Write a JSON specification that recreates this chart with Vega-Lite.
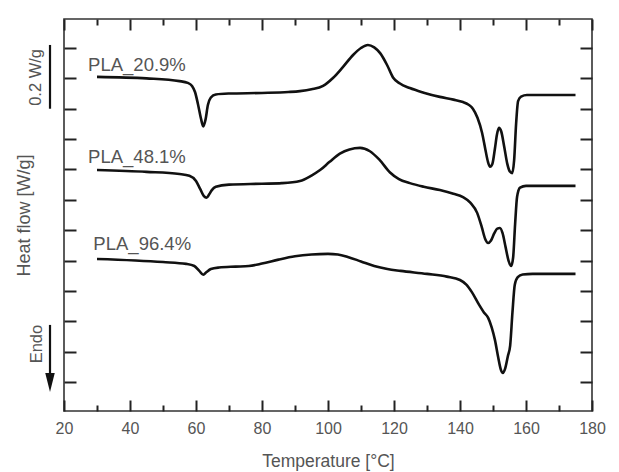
{
  "$schema": "https://vega.github.io/schema/vega-lite/v6.json",
  "width": 528,
  "height": 392,
  "autosize": {"type": "none"},
  "padding": {"left": 64, "top": 19, "right": 27, "bottom": 61},
  "background": "white",
  "config": {
    "view": {"stroke": "#333", "strokeWidth": 1.6},
    "font": "Liberation Sans",
    "axis": {"grid": false, "domain": false, "tickColor": "#222", "tickWidth": 2, "labelFont": "Liberation Sans", "titleFont": "Liberation Sans", "labelColor": "#555", "titleColor": "#555", "titleFontWeight": "normal", "labelFlush": false}
  },
  "datasets": {
    "curves": [
      {"s":"PLA_20.9%","T":30,"hf":1.005},{"s":"PLA_20.9%","T":45,"hf":1.000},{"s":"PLA_20.9%","T":55,"hf":0.991},{"s":"PLA_20.9%","T":57.5,"hf":0.985},{"s":"PLA_20.9%","T":58.8,"hf":0.975},{"s":"PLA_20.9%","T":59.7,"hf":0.955},{"s":"PLA_20.9%","T":60.6,"hf":0.915},{"s":"PLA_20.9%","T":61.5,"hf":0.868},{"s":"PLA_20.9%","T":62.2,"hf":0.842},{"s":"PLA_20.9%","T":62.9,"hf":0.865},{"s":"PLA_20.9%","T":63.6,"hf":0.912},{"s":"PLA_20.9%","T":64.5,"hf":0.937},{"s":"PLA_20.9%","T":66,"hf":0.947},{"s":"PLA_20.9%","T":70,"hf":0.950},{"s":"PLA_20.9%","T":80,"hf":0.952},{"s":"PLA_20.9%","T":88,"hf":0.955},{"s":"PLA_20.9%","T":91.5,"hf":0.958},{"s":"PLA_20.9%","T":95,"hf":0.964},{"s":"PLA_20.9%","T":98.5,"hf":0.975},{"s":"PLA_20.9%","T":101.5,"hf":1.001},{"s":"PLA_20.9%","T":104.5,"hf":1.037},{"s":"PLA_20.9%","T":107.6,"hf":1.077},{"s":"PLA_20.9%","T":110,"hf":1.100},{"s":"PLA_20.9%","T":112.1,"hf":1.110},{"s":"PLA_20.9%","T":114,"hf":1.102},{"s":"PLA_20.9%","T":115.8,"hf":1.083},{"s":"PLA_20.9%","T":117.9,"hf":1.044},{"s":"PLA_20.9%","T":119.7,"hf":1.003},{"s":"PLA_20.9%","T":121.8,"hf":0.983},{"s":"PLA_20.9%","T":124.8,"hf":0.968},{"s":"PLA_20.9%","T":129,"hf":0.953},{"s":"PLA_20.9%","T":133.9,"hf":0.939},{"s":"PLA_20.9%","T":138,"hf":0.930},{"s":"PLA_20.9%","T":140.9,"hf":0.922},{"s":"PLA_20.9%","T":142.5,"hf":0.914},{"s":"PLA_20.9%","T":143.9,"hf":0.900},{"s":"PLA_20.9%","T":145.3,"hf":0.870},{"s":"PLA_20.9%","T":146.7,"hf":0.820},{"s":"PLA_20.9%","T":147.7,"hf":0.765},{"s":"PLA_20.9%","T":148.5,"hf":0.724},{"s":"PLA_20.9%","T":149.1,"hf":0.709},{"s":"PLA_20.9%","T":149.8,"hf":0.718},{"s":"PLA_20.9%","T":150.6,"hf":0.770},{"s":"PLA_20.9%","T":151.2,"hf":0.815},{"s":"PLA_20.9%","T":151.8,"hf":0.837},{"s":"PLA_20.9%","T":152.5,"hf":0.825},{"s":"PLA_20.9%","T":153.4,"hf":0.775},{"s":"PLA_20.9%","T":154.3,"hf":0.720},{"s":"PLA_20.9%","T":155.1,"hf":0.693},{"s":"PLA_20.9%","T":155.8,"hf":0.688},{"s":"PLA_20.9%","T":156.4,"hf":0.730},{"s":"PLA_20.9%","T":157,"hf":0.850},{"s":"PLA_20.9%","T":157.6,"hf":0.925},{"s":"PLA_20.9%","T":158.5,"hf":0.940},{"s":"PLA_20.9%","T":160.3,"hf":0.945},{"s":"PLA_20.9%","T":168,"hf":0.945},{"s":"PLA_20.9%","T":175,"hf":0.945},
      {"s":"PLA_48.1%","T":30,"hf":0.698},{"s":"PLA_48.1%","T":45,"hf":0.692},{"s":"PLA_48.1%","T":55,"hf":0.685},{"s":"PLA_48.1%","T":58,"hf":0.679},{"s":"PLA_48.1%","T":60,"hf":0.662},{"s":"PLA_48.1%","T":61.3,"hf":0.635},{"s":"PLA_48.1%","T":62.4,"hf":0.612},{"s":"PLA_48.1%","T":63.2,"hf":0.607},{"s":"PLA_48.1%","T":64,"hf":0.618},{"s":"PLA_48.1%","T":64.8,"hf":0.632},{"s":"PLA_48.1%","T":66,"hf":0.643},{"s":"PLA_48.1%","T":70,"hf":0.650},{"s":"PLA_48.1%","T":80,"hf":0.653},{"s":"PLA_48.1%","T":86,"hf":0.655},{"s":"PLA_48.1%","T":91.5,"hf":0.662},{"s":"PLA_48.1%","T":95,"hf":0.680},{"s":"PLA_48.1%","T":97.6,"hf":0.698},{"s":"PLA_48.1%","T":100.5,"hf":0.725},{"s":"PLA_48.1%","T":103.6,"hf":0.752},{"s":"PLA_48.1%","T":106.5,"hf":0.766},{"s":"PLA_48.1%","T":109.7,"hf":0.771},{"s":"PLA_48.1%","T":112.7,"hf":0.760},{"s":"PLA_48.1%","T":115.5,"hf":0.733},{"s":"PLA_48.1%","T":118.8,"hf":0.690},{"s":"PLA_48.1%","T":121.5,"hf":0.668},{"s":"PLA_48.1%","T":124.8,"hf":0.655},{"s":"PLA_48.1%","T":129,"hf":0.643},{"s":"PLA_48.1%","T":133.9,"hf":0.632},{"s":"PLA_48.1%","T":138,"hf":0.620},{"s":"PLA_48.1%","T":140.9,"hf":0.609},{"s":"PLA_48.1%","T":143.2,"hf":0.590},{"s":"PLA_48.1%","T":145.2,"hf":0.557},{"s":"PLA_48.1%","T":146.6,"hf":0.510},{"s":"PLA_48.1%","T":147.6,"hf":0.472},{"s":"PLA_48.1%","T":148.5,"hf":0.458},{"s":"PLA_48.1%","T":149.4,"hf":0.466},{"s":"PLA_48.1%","T":150.4,"hf":0.490},{"s":"PLA_48.1%","T":151.3,"hf":0.505},{"s":"PLA_48.1%","T":152.1,"hf":0.507},{"s":"PLA_48.1%","T":152.9,"hf":0.490},{"s":"PLA_48.1%","T":153.8,"hf":0.445},{"s":"PLA_48.1%","T":154.7,"hf":0.400},{"s":"PLA_48.1%","T":155.5,"hf":0.382},{"s":"PLA_48.1%","T":156.1,"hf":0.410},{"s":"PLA_48.1%","T":156.7,"hf":0.520},{"s":"PLA_48.1%","T":157.3,"hf":0.610},{"s":"PLA_48.1%","T":158.2,"hf":0.640},{"s":"PLA_48.1%","T":160,"hf":0.646},{"s":"PLA_48.1%","T":168,"hf":0.646},{"s":"PLA_48.1%","T":175,"hf":0.646},
      {"s":"PLA_96.4%","T":30,"hf":0.405},{"s":"PLA_96.4%","T":50,"hf":0.395},{"s":"PLA_96.4%","T":57,"hf":0.389},{"s":"PLA_96.4%","T":59.5,"hf":0.382},{"s":"PLA_96.4%","T":61,"hf":0.366},{"s":"PLA_96.4%","T":62.2,"hf":0.353},{"s":"PLA_96.4%","T":63.2,"hf":0.362},{"s":"PLA_96.4%","T":64.5,"hf":0.372},{"s":"PLA_96.4%","T":67,"hf":0.377},{"s":"PLA_96.4%","T":72,"hf":0.380},{"s":"PLA_96.4%","T":76,"hf":0.382},{"s":"PLA_96.4%","T":80,"hf":0.390},{"s":"PLA_96.4%","T":85,"hf":0.403},{"s":"PLA_96.4%","T":90,"hf":0.414},{"s":"PLA_96.4%","T":95,"hf":0.420},{"s":"PLA_96.4%","T":100,"hf":0.422},{"s":"PLA_96.4%","T":103,"hf":0.420},{"s":"PLA_96.4%","T":106,"hf":0.412},{"s":"PLA_96.4%","T":110,"hf":0.397},{"s":"PLA_96.4%","T":114,"hf":0.382},{"s":"PLA_96.4%","T":118,"hf":0.372},{"s":"PLA_96.4%","T":122,"hf":0.366},{"s":"PLA_96.4%","T":130,"hf":0.356},{"s":"PLA_96.4%","T":136,"hf":0.347},{"s":"PLA_96.4%","T":140,"hf":0.336},{"s":"PLA_96.4%","T":142,"hf":0.320},{"s":"PLA_96.4%","T":143.6,"hf":0.296},{"s":"PLA_96.4%","T":145.8,"hf":0.254},{"s":"PLA_96.4%","T":147.2,"hf":0.230},{"s":"PLA_96.4%","T":148.5,"hf":0.212},{"s":"PLA_96.4%","T":149.6,"hf":0.180},{"s":"PLA_96.4%","T":150.6,"hf":0.138},{"s":"PLA_96.4%","T":151.6,"hf":0.080},{"s":"PLA_96.4%","T":152.4,"hf":0.040},{"s":"PLA_96.4%","T":153,"hf":0.030},{"s":"PLA_96.4%","T":153.7,"hf":0.045},{"s":"PLA_96.4%","T":154.5,"hf":0.085},{"s":"PLA_96.4%","T":155.2,"hf":0.120},{"s":"PLA_96.4%","T":155.9,"hf":0.230},{"s":"PLA_96.4%","T":156.6,"hf":0.320},{"s":"PLA_96.4%","T":157.5,"hf":0.345},{"s":"PLA_96.4%","T":159,"hf":0.354},{"s":"PLA_96.4%","T":162,"hf":0.356},{"s":"PLA_96.4%","T":175,"hf":0.356}
    ],
    "names": [
      {"label": "PLA_20.9%", "T": 27.3, "hf": 1.044},
      {"label": "PLA_48.1%", "T": 27.3, "hf": 0.742},
      {"label": "PLA_96.4%", "T": 28.9, "hf": 0.455}
    ],
    "bar": [{"T": 15.76, "lo": 0.9, "hi": 1.11}],
    "arrow": [{"T": 15.76, "lo": 0.02, "hi": 0.188}],
    "head": [{"T": 15.76, "hf": -0.002}],
    "sidetext": [
      {"text": "0.2 W/g", "T": 13.0, "hf": 1.003},
      {"text": "Endo", "T": 13.2, "hf": 0.125}
    ]
  },
  "resolve": {"axis": {"x": "independent", "y": "independent"}},
  "layer": [
    {
      "data": {"name": "curves"},
      "mark": {"type": "line", "color": "#111", "strokeWidth": 2.6, "interpolate": "monotone"},
      "encoding": {
        "x": {"field": "T", "type": "quantitative", "scale": {"domain": [20, 180], "nice": false, "zero": false},
          "axis": {"orient": "bottom", "values": [20, 40, 60, 80, 100, 120, 140, 160, 180], "tickSize": -11, "labelPadding": 20.5, "labelFontSize": 16, "labelFlush": false, "title": "Temperature [°C]", "titleFontSize": 17.5, "titleY": 55, "titleBaseline": "alphabetic"}},
        "y": {"field": "hf", "type": "quantitative", "scale": {"domain": [-0.0955, 1.1955], "nice": false, "zero": false},
          "axis": {"orient": "left", "values": [0, 0.1, 0.2, 0.3, 0.4, 0.5, 0.6, 0.7, 0.8, 0.9, 1.0, 1.1], "tickSize": -12, "labels": false, "title": "Heat flow [W/g]", "titleFontSize": 18, "titleAngle": 270, "titleX": -34.5, "titleY": 196, "titleAlign": "center", "titleBaseline": "alphabetic"}},
        "detail": {"field": "s"}
      }
    },
    {
      "data": {"name": "names"},
      "mark": {"type": "text", "align": "left", "baseline": "middle", "fontSize": 18.5, "color": "#555", "font": "Liberation Sans"},
      "encoding": {
        "x": {"field": "T", "type": "quantitative", "axis": {"orient": "bottom", "values": [30, 50, 70, 90, 110, 130, 150, 170], "tickSize": -6, "labels": false, "title": null}},
        "y": {"field": "hf", "type": "quantitative", "axis": {"orient": "right", "values": [0, 0.1, 0.2, 0.3, 0.4, 0.5, 0.6, 0.7, 0.8, 0.9, 1.0, 1.1], "tickSize": -12, "labels": false, "title": null}},
        "text": {"field": "label"}
      }
    },
    {
      "data": {"name": "bar"},
      "mark": {"type": "rule", "color": "#111", "strokeWidth": 2.2},
      "encoding": {
        "x": {"field": "T", "type": "quantitative", "axis": {"orient": "top", "values": [20, 40, 60, 80, 100, 120, 140, 160, 180], "tickSize": -11, "labels": false, "title": null}},
        "y": {"field": "lo", "type": "quantitative", "axis": null},
        "y2": {"field": "hi"}
      }
    },
    {
      "data": {"name": "arrow"},
      "mark": {"type": "rule", "color": "#111", "strokeWidth": 2.2},
      "encoding": {
        "x": {"field": "T", "type": "quantitative", "axis": {"orient": "top", "values": [30, 50, 70, 90, 110, 130, 150, 170], "tickSize": -6, "labels": false, "title": null}},
        "y": {"field": "lo", "type": "quantitative", "axis": null},
        "y2": {"field": "hi"}
      }
    },
    {
      "data": {"name": "head"},
      "mark": {"type": "point", "shape": "M-0.5,-1L0.5,-1L0,1Z", "filled": true, "color": "#111", "opacity": 1, "size": 361},
      "encoding": {
        "x": {"field": "T", "type": "quantitative", "axis": null},
        "y": {"field": "hf", "type": "quantitative", "axis": null}
      }
    },
    {
      "data": {"name": "sidetext"},
      "mark": {"type": "text", "angle": 270, "align": "center", "baseline": "alphabetic", "fontSize": 16.5, "color": "#555", "font": "Liberation Sans"},
      "encoding": {
        "x": {"field": "T", "type": "quantitative", "axis": null},
        "y": {"field": "hf", "type": "quantitative", "axis": null},
        "text": {"field": "text"}
      }
    }
  ]
}
